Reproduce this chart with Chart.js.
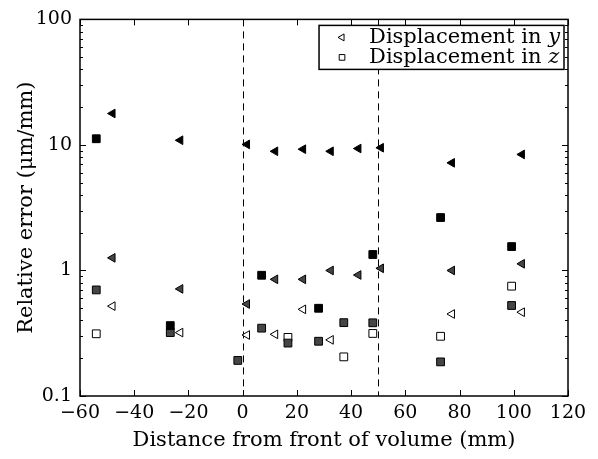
<!DOCTYPE html>
<html>
<head>
<meta charset="utf-8">
<script src="https://cdn.jsdelivr.net/npm/chart.js@4.4.0/dist/chart.umd.min.js"></script>
<style>
  html, body { margin: 0; padding: 0; background: #fff; }
  #wrap { width: 598px; height: 459px; }
</style>
</head>
<body>
<div id="wrap"><canvas id="errChart" width="598" height="459"></canvas></div>
<script>
// positions of the y-displacement samples (mm from front of volume)
const yPos = [-48, -23, 1.6, 12, 22.3, 32.5, 42.7, 51, 77.2, 103];
const yHigh = [17.8, 10.9, 10.1, 8.9, 9.25, 8.9, 9.36, 9.5, 7.2, 8.4];
const yMid = [1.26, 0.713, 0.54, 0.85, 0.85, 1.0, 0.92, 1.04, 1.0, 1.13];
const yLow = [0.52, 0.32, 0.306, 0.31, 0.49, 0.28, null, null, 0.45, 0.465];

// positions of the z-displacement samples
const zPos = [-54, -26.7, -1.8, 7, 16.7, 28, 37.3, 48, 73, 99.2];
const zHigh = [11.2, 0.364, null, 0.916, null, 0.50, null, 1.34, 2.64, 1.55];
const zMid = [0.70, 0.32, 0.192, 0.347, 0.264, 0.273, 0.384, 0.383, 0.187, 0.526];
const zLow = [0.313, null, null, null, 0.293, null, 0.205, 0.315, 0.299, 0.75];

const xTicks = [-60, -40, -20, 0, 20, 40, 60, 80, 100, 120];
const yTicks = [0.1, 1, 10, 100];
const yTickLabels = ["0.1", "1", "10", "100"];
const volumeEdges = [0, 50];
const legendLabels = ["Displacement in ", "Displacement in "];
const legendVars = ["y", "z"];

const SERIF = '"DejaVu Serif", "Liberation Serif", serif';
const GRAY = "#454545";

function points(xs, vals) {
  const out = [];
  xs.forEach((x, i) => {
    if (vals[i] != null) out.push({ x: x, y: vals[i] });
  });
  return out;
}

function triSet(vals, fill) {
  return {
    data: points(yPos, vals),
    pointStyle: "triangle",
    rotation: -90,
    radius: 5,
    backgroundColor: fill,
    borderColor: "#000",
    borderWidth: 1
  };
}

function sqSet(vals, fill) {
  return {
    data: points(zPos, vals),
    pointStyle: "rect",
    radius: 5.5,
    backgroundColor: fill,
    borderColor: "#000",
    borderWidth: 1
  };
}

// dashed lines marking the volume, drawn under the markers
const edgeLines = {
  id: "edgeLines",
  beforeDatasetsDraw(chart) {
    const { ctx, chartArea, scales } = chart;
    ctx.save();
    ctx.strokeStyle = "#000";
    ctx.lineWidth = 1;
    ctx.setLineDash([7, 5]);
    volumeEdges.forEach(v => {
      const px = Math.round(scales.x.getPixelForValue(v)) + 0.5;
      ctx.beginPath();
      ctx.moveTo(px, chartArea.top);
      ctx.lineTo(px, chartArea.bottom);
      ctx.stroke();
    });
    ctx.restore();
  }
};

// box around the axes with inward ticks on all four sides
const frame = {
  id: "frame",
  afterDraw(chart) {
    const { ctx, chartArea: a, scales } = chart;
    ctx.save();
    ctx.strokeStyle = "#000";
    ctx.lineWidth = 1;
    ctx.beginPath();
    xTicks.forEach(v => {
      const px = Math.round(scales.x.getPixelForValue(v)) + 0.5;
      ctx.moveTo(px, a.bottom); ctx.lineTo(px, a.bottom - 6);
      ctx.moveTo(px, a.top); ctx.lineTo(px, a.top + 6);
    });
    for (let d = 0.1; d < 100; d *= 10) {
      for (let m = 1; m <= 10; m++) {
        const py = Math.round(scales.y.getPixelForValue(d * m)) + 0.5;
        const len = (m === 1 || m === 10) ? 6 : 3;
        ctx.moveTo(a.left, py); ctx.lineTo(a.left + len, py);
        ctx.moveTo(a.right, py); ctx.lineTo(a.right - len, py);
      }
    }
    ctx.stroke();
    ctx.lineWidth = 1.5;
    ctx.strokeRect(a.left, a.top, a.right - a.left, a.bottom - a.top);
    ctx.restore();
  }
};

// legend box in the upper right corner of the axes
const cornerLegend = {
  id: "cornerLegend",
  afterDraw(chart) {
    const { ctx, chartArea: a } = chart;
    ctx.save();
    ctx.font = "21px " + SERIF;
    const plainW = ctx.measureText(legendLabels[0]).width;
    ctx.font = "italic 21px " + SERIF;
    const varW = ctx.measureText("y").width;
    const w = 50 + plainW + varW + 4;
    const right = a.right - 4;
    const left = right - w;
    const top = a.top + 6;
    const rowH = 20;
    ctx.fillStyle = "#fff";
    ctx.fillRect(left, top, w, rowH * 2 + 4);
    ctx.strokeStyle = "#000";
    ctx.lineWidth = 1.5;
    ctx.strokeRect(left, top, w, rowH * 2 + 4);
    const styles = [
      { pointStyle: "triangle", rotation: -90, radius: 4, borderWidth: 1 },
      { pointStyle: "rect", rotation: 0, radius: 4, borderWidth: 1 }
    ];
    styles.forEach((st, i) => {
      const cy = top + 12 + i * rowH;
      ctx.fillStyle = "#fff";
      ctx.strokeStyle = "#000";
      ctx.lineWidth = 1;
      Chart.helpers.drawPoint(ctx, st, left + 23, cy);
      ctx.fillStyle = "#000";
      ctx.textBaseline = "middle";
      ctx.textAlign = "left";
      ctx.font = "21px " + SERIF;
      ctx.fillText(legendLabels[i], left + 50, cy);
      ctx.font = "italic 21px " + SERIF;
      ctx.fillText(legendVars[i], left + 50 + plainW, cy);
    });
    ctx.restore();
  }
};

new Chart(document.getElementById("errChart"), {
  type: "scatter",
  data: {
    datasets: [
      triSet(yHigh, "#000"),
      triSet(yMid, GRAY),
      triSet(yLow, "#fff"),
      sqSet(zHigh, "#000"),
      sqSet(zMid, GRAY),
      sqSet(zLow, "#fff")
    ]
  },
  options: {
    responsive: false,
    animation: false,
    layout: { padding: { top: 9, right: 30, left: 0, bottom: 0 } },
    plugins: {
      legend: { display: false },
      tooltip: { enabled: false }
    },
    scales: {
      x: {
        type: "linear",
        min: -60,
        max: 120,
        afterBuildTicks: s => { s.ticks = xTicks.map(v => ({ value: v })); },
        afterFit: s => { s.height = 63; },
        grid: { display: false, drawTicks: false },
        border: { display: false },
        ticks: {
          color: "#000",
          padding: 6,
          maxRotation: 0,
          font: { family: SERIF, size: 19 },
          callback: v => (v < 0 ? "\u2212" + Math.abs(v) : String(v))
        },
        title: {
          display: true,
          text: "Distance from front of volume (mm)",
          color: "#000",
          font: { family: SERIF, size: 21 },
          padding: { top: 0, bottom: 6 }
        }
      },
      y: {
        type: "logarithmic",
        min: 0.1,
        max: 100,
        afterBuildTicks: s => { s.ticks = yTicks.map(v => ({ value: v })); },
        afterFit: s => { s.width = 80; },
        grid: { display: false, drawTicks: false },
        border: { display: false },
        ticks: {
          color: "#000",
          padding: 8,
          font: { family: SERIF, size: 19 },
          callback: v => yTickLabels[yTicks.indexOf(v)]
        },
        title: {
          display: true,
          text: "Relative error (\u03bcm/mm)",
          color: "#000",
          font: { family: SERIF, size: 21 },
          padding: { top: 14, bottom: 0 }
        }
      }
    }
  },
  plugins: [edgeLines, frame, cornerLegend]
});
</script>
</body>
</html>
